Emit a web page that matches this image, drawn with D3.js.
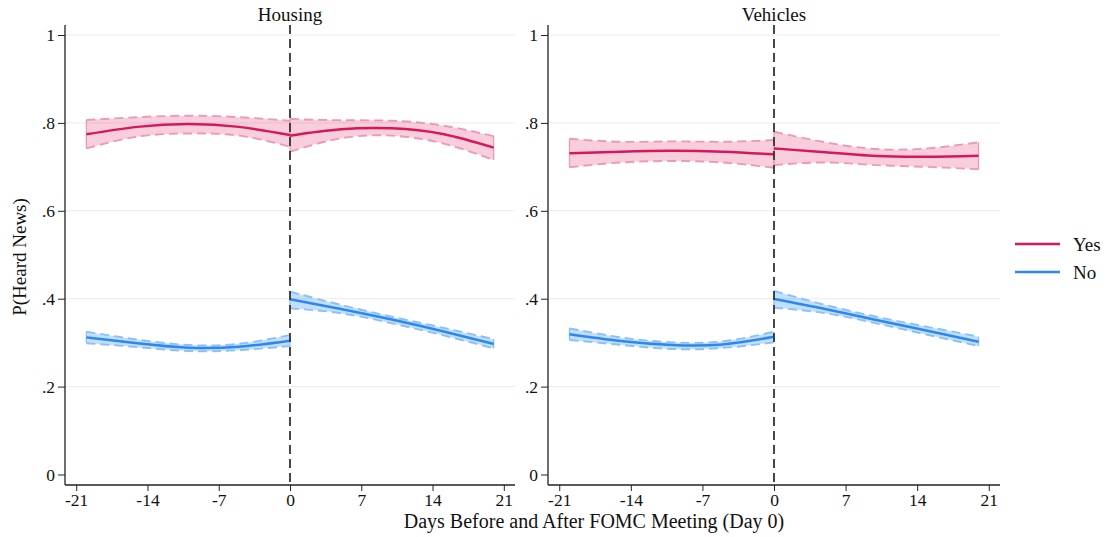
<!DOCTYPE html>
<html>
<head>
<meta charset="utf-8">
<script src="https://d3js.org/d3.v7.min.js"></script>
<style>
  body { margin: 0; background: #fff; }
  svg { font-family: "Liberation Serif", "DejaVu Serif", serif; }
</style>
</head>
<body>
<svg id="grafico" width="1109" height="537"></svg>
<script>
// Datos
var panelTitles = ["Housing", "Vehicles"];
var seriesNames = ["Yes", "No"];
var daysPre = [-20, -15, -10, -5, 0];
var daysPost = [0, 5, 10, 15, 20];
var xTicks = [-21, -14, -7, 0, 7, 14, 21];
var yTicks = [0, 0.2, 0.4, 0.6, 0.8, 1];

// Housing - Yes
var housingYesPre = [0.774, 0.791, 0.7975, 0.791, 0.7725];
var housingYesPreHi = [0.8066, 0.813, 0.8164, 0.813, 0.805];
var housingYesPreLo = [0.742, 0.7687, 0.776, 0.771, 0.746];
var housingYesPost = [0.771, 0.7854, 0.7877, 0.7747, 0.7437];
var housingYesPostHi = [0.809, 0.806, 0.805, 0.794, 0.770];
var housingYesPostLo = [0.7345, 0.765, 0.771, 0.7535, 0.7156];
// Housing - No
var housingNoPre = [0.312, 0.2985, 0.2886, 0.2908, 0.3045];
var housingNoPreHi = [0.325, 0.307, 0.2947, 0.2975, 0.3174];
var housingNoPreLo = [0.2985, 0.290, 0.281, 0.283, 0.2924];
var housingNoPost = [0.3986, 0.3766, 0.3525, 0.326, 0.297];
var housingNoPostHi = [0.416, 0.386, 0.359, 0.334, 0.308];
var housingNoPostLo = [0.378, 0.367, 0.344, 0.317, 0.287];
// Vehicles - Yes
var vehiclesYesPre = [0.7308, 0.7345, 0.7368, 0.7345, 0.7285];
var vehiclesYesPreHi = [0.764, 0.757, 0.758, 0.757, 0.761];
var vehiclesYesPreLo = [0.699, 0.710, 0.7133, 0.710, 0.698];
var vehiclesYesPost = [0.742, 0.733, 0.7247, 0.723, 0.7254];
var vehiclesYesPostHi = [0.780, 0.756, 0.7406, 0.742, 0.756];
var vehiclesYesPostLo = [0.704, 0.710, 0.704, 0.700, 0.6944];
// Vehicles - No
var vehiclesNoPre = [0.319, 0.3037, 0.2947, 0.296, 0.3136];
var vehiclesNoPreHi = [0.3326, 0.312, 0.3007, 0.303, 0.325];
var vehiclesNoPreLo = [0.306, 0.295, 0.2856, 0.288, 0.3007];
var vehiclesNoPost = [0.3993, 0.3766, 0.3515, 0.327, 0.302];
var vehiclesNoPostHi = [0.4175, 0.386, 0.359, 0.336, 0.3136];
var vehiclesNoPostLo = [0.3796, 0.367, 0.344, 0.318, 0.2924];

// Colores
var colors = {
  Yes: { line: "#d6175c", fill: "rgba(226, 60, 120, 0.25)", dash: "#eb9ab8" },
  No: { line: "#2a88f2", fill: "rgba(60, 150, 245, 0.3)", dash: "#8cc0f6" }
};

var FONT = "Liberation Serif";

function seg(days, mid, lo, hi) {
  return days.map(function(d, i) { return { x: d, y: mid[i], lo: lo[i], hi: hi[i] }; });
}

var panels = [
  {
    title: panelTitles[0], x0: 65, x1: 515,
    series: [
      { name: "Yes", segs: [seg(daysPre, housingYesPre, housingYesPreLo, housingYesPreHi), seg(daysPost, housingYesPost, housingYesPostLo, housingYesPostHi)] },
      { name: "No", segs: [seg(daysPre, housingNoPre, housingNoPreLo, housingNoPreHi), seg(daysPost, housingNoPost, housingNoPostLo, housingNoPostHi)] }
    ]
  },
  {
    title: panelTitles[1], x0: 548, x1: 1000,
    series: [
      { name: "Yes", segs: [seg(daysPre, vehiclesYesPre, vehiclesYesPreLo, vehiclesYesPreHi), seg(daysPost, vehiclesYesPost, vehiclesYesPostLo, vehiclesYesPostHi)] },
      { name: "No", segs: [seg(daysPre, vehiclesNoPre, vehiclesNoPreLo, vehiclesNoPreHi), seg(daysPost, vehiclesNoPost, vehiclesNoPostLo, vehiclesNoPostHi)] }
    ]
  }
];

var svg = d3.select("#grafico");
var yTop = 25, yBottom = 485;

var y = d3.scaleLinear().domain([-0.0239, 1.0228]).range([yBottom, yTop]);
var fmtY = function(v) { return v === 0 ? "0" : v === 1 ? "1" : d3.format(".1f")(v).replace(/^0/, ""); };
var fmtX = function(v) { return String(v); }; // guion normal, no signo menos

panels.forEach(function(p, pi) {
  var x = d3.scaleLinear().domain([-22.1, 22.1]).range([p.x0, p.x1]);
  var g = svg.append("g");

  // Líneas de cuadrícula
  g.selectAll(".grid")
    .data(yTicks.filter(function(t) { return t > 0; }))
    .enter().append("line")
    .attr("x1", p.x0).attr("x2", p.x1)
    .attr("y1", function(d) { return y(d); }).attr("y2", function(d) { return y(d); })
    .attr("stroke", "#ebebeb").attr("stroke-width", 1);

  // Eje Y
  var ay = g.append("g").attr("transform", "translate(" + p.x0 + ",0)")
    .call(d3.axisLeft(y).tickValues(yTicks).tickFormat(fmtY).tickSize(7).tickPadding(3));
  ay.attr("font-family", FONT).attr("font-size", 17.5);
  ay.select(".domain").remove();
  ay.selectAll("line").attr("stroke", "#222");
  ay.selectAll("text").attr("fill", "#111");
  g.append("line").attr("x1", p.x0).attr("x2", p.x0).attr("y1", yTop).attr("y2", yBottom)
    .attr("stroke", "#222").attr("stroke-width", 1.3);

  // Eje X
  var ax = g.append("g").attr("transform", "translate(0," + yBottom + ")")
    .call(d3.axisBottom(x).tickValues(xTicks).tickFormat(fmtX).tickSize(6).tickPadding(3));
  ax.attr("font-family", FONT).attr("font-size", 17.5);
  ax.select(".domain").remove();
  ax.selectAll("line").attr("stroke", "#222");
  ax.selectAll("text").attr("fill", "#111");
  g.append("line").attr("x1", p.x0).attr("x2", p.x1).attr("y1", yBottom).attr("y2", yBottom)
    .attr("stroke", "#222").attr("stroke-width", 1.3);

  // Título del panel
  g.append("text").attr("x", x(0)).attr("y", 21).attr("text-anchor", "middle")
    .attr("font-size", 19).attr("fill", "#111").text(p.title);

  var area = d3.area().x(function(d) { return x(d.x); })
    .y0(function(d) { return y(d.lo); }).y1(function(d) { return y(d.hi); })
    .curve(d3.curveNatural);
  var lineLo = d3.line().x(function(d) { return x(d.x); }).y(function(d) { return y(d.lo); }).curve(d3.curveNatural);
  var lineHi = d3.line().x(function(d) { return x(d.x); }).y(function(d) { return y(d.hi); }).curve(d3.curveNatural);
  var lineMid = d3.line().x(function(d) { return x(d.x); }).y(function(d) { return y(d.y); }).curve(d3.curveNatural);

  p.series.forEach(function(s) {
    var c = colors[s.name];
    s.segs.forEach(function(sg) {
      g.append("path").attr("d", area(sg)).attr("fill", c.fill).attr("stroke", "none");
      [lineLo, lineHi].forEach(function(fn) {
        g.append("path").attr("d", fn(sg)).attr("fill", "none")
          .attr("stroke", c.dash).attr("stroke-width", 1.9).attr("stroke-dasharray", "9,5");
      });
      // bordes verticales del intervalo
      [sg[0], sg[sg.length - 1]].forEach(function(d) {
        g.append("line").attr("x1", x(d.x)).attr("x2", x(d.x))
          .attr("y1", y(d.lo)).attr("y2", y(d.hi))
          .attr("stroke", c.dash).attr("stroke-width", 1.3);
      });
    });
  });
  p.series.forEach(function(s) {
    var c = colors[s.name];
    s.segs.forEach(function(sg) {
      g.append("path").attr("d", lineMid(sg)).attr("fill", "none")
        .attr("stroke", c.line).attr("stroke-width", 2.5);
    });
  });

  // Línea vertical en el día 0
  g.append("line").attr("x1", x(0)).attr("x2", x(0)).attr("y1", yTop).attr("y2", yBottom)
    .attr("stroke", "#333").attr("stroke-width", 1.8).attr("stroke-dasharray", "9,5");
});

// Títulos de ejes
svg.append("text").attr("transform", "translate(26,257) rotate(-90)")
  .attr("text-anchor", "middle").attr("font-size", 19).attr("fill", "#111").text("P(Heard News)");
svg.append("text").attr("x", 594).attr("y", 528).attr("text-anchor", "middle")
  .attr("font-size", 20).attr("fill", "#111").text("Days Before and After FOMC Meeting (Day 0)");

// Leyenda
var legend = svg.append("g");
seriesNames.forEach(function(n, i) {
  var ly = 244 + i * 28;
  legend.append("line").attr("x1", 1015).attr("x2", 1060).attr("y1", ly).attr("y2", ly)
    .attr("stroke", colors[n].line).attr("stroke-width", 2.6);
  legend.append("text").attr("x", 1073).attr("y", ly + 6.5).attr("font-size", 19).attr("fill", "#111").text(n);
});
</script>
</body>
</html>
